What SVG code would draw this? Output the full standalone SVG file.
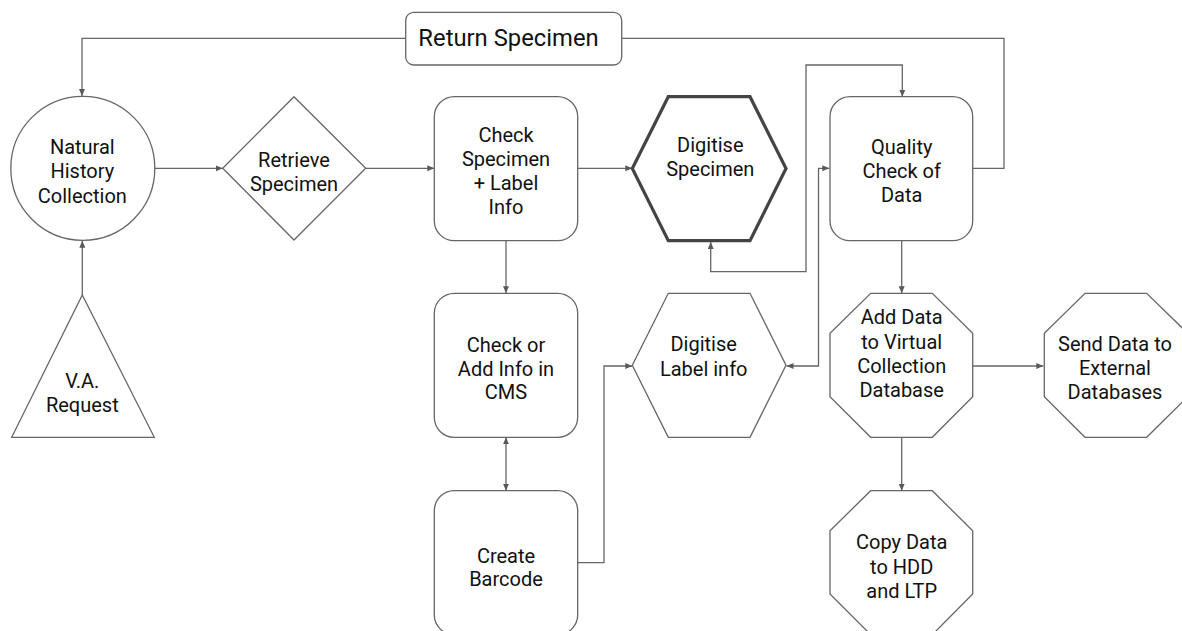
<svg xmlns="http://www.w3.org/2000/svg" width="1182" height="631" viewBox="0 0 1182 631">
<defs>
<marker id="ah" markerUnits="userSpaceOnUse" markerWidth="8" markerHeight="8" refX="7" refY="3" orient="auto-start-reverse" viewBox="0 0 8 6">
<path d="M0,0 L7,3 L0,6 z" fill="#595959"/>
</marker>
<style>
.n{fill:#fff;stroke:#666;stroke-width:1.3}
.thick{fill:#fff;stroke:#444;stroke-width:3.2;stroke-linejoin:miter}
.c{fill:none;stroke:#666;stroke-width:1.3}
.a{marker-end:url(#ah)}
.b{marker-start:url(#ah);marker-end:url(#ah)}
text{font-family:Roboto,"Liberation Sans",sans-serif;font-size:20px;fill:#111;text-anchor:middle}
.big{font-size:23.8px}
</style>
</defs>
<rect width="1182" height="631" fill="#fff"/>
<g id="connectors">
<path class="c a" d="M154,168.3 H222.7"/>
<path class="c a" d="M365.7,168.3 H434.3"/>
<path class="c a" d="M577.7,168.3 H632.3"/>
<path class="c b" d="M710.7,242 V271.7 H806 V65 H902.3 V96.7"/>
<path class="c b" d="M829.3,168.3 H818.5 V366 H786.5"/>
<path class="c" d="M972.7,168.3 H1004 V38.3 H621.7"/>
<path class="c a" d="M405.7,38.3 H82 V96"/>
<path class="c a" d="M82.3,295 V240.7"/>
<path class="c a" d="M506,240.7 V293.3"/>
<path class="c b" d="M506,437.3 V490.7"/>
<path class="c a" d="M577.7,562.7 H604 V366 H632.3"/>
<path class="c a" d="M901.7,240.7 V293.3"/>
<path class="c a" d="M972.7,366 H1043.3"/>
<path class="c a" d="M901.7,437.3 V490.7"/>
</g>
<g id="return-specimen">
<rect class="n" x="405.7" y="12.3" width="216" height="52.7" rx="8"/>
<text class="big" x="508.5" y="46">Return Specimen</text>
</g>
<g id="natural-history-collection">
<circle class="n" cx="82.8" cy="168.3" r="72"/>
<text x="82.3" y="154">Natural</text>
<text x="82.3" y="178">History</text>
<text x="82.3" y="203">Collection</text>
</g>
<g id="va-request">
<polygon class="n" points="82.3,295 154.3,437.3 11.7,437.3"/>
<text x="82.3" y="388.3">V.A.</text>
<text x="82.3" y="411.7">Request</text>
</g>
<g id="retrieve-specimen">
<polygon class="n" points="294,96.7 365.7,168.3 294,240 222.7,168.3"/>
<text x="294" y="166.7">Retrieve</text>
<text x="294" y="190.7">Specimen</text>
</g>
<g id="check-specimen">
<rect class="n" x="434.3" y="96.7" width="143.4" height="144" rx="20"/>
<text x="506" y="141.7">Check</text>
<text x="506" y="166">Specimen</text>
<text x="506" y="190.3">+ Label</text>
<text x="506" y="214">Info</text>
</g>
<g id="digitise-specimen">
<polygon class="thick" points="668.3,96.7 750,96.7 786,168.5 750,240.7 668.3,240.7 632.3,168.5"/>
<text x="710.3" y="151.7">Digitise</text>
<text x="710.3" y="176">Specimen</text>
</g>
<g id="quality-check">
<rect class="n" x="830" y="96.7" width="142.7" height="144" rx="20"/>
<text x="901.7" y="154">Quality</text>
<text x="901.7" y="178.3">Check of</text>
<text x="901.7" y="202.3">Data</text>
</g>
<g id="check-or-add-info">
<rect class="n" x="434.3" y="293.3" width="143.4" height="144" rx="20"/>
<text x="506" y="351.7">Check or</text>
<text x="506" y="375.7">Add Info in</text>
<text x="506" y="399.3">CMS</text>
</g>
<g id="create-barcode">
<rect class="n" x="434.3" y="490.7" width="143.4" height="144" rx="20"/>
<text x="506" y="562.7">Create</text>
<text x="506" y="586">Barcode</text>
</g>
<g id="digitise-label-info">
<polygon class="n" points="668.3,293.3 750,293.3 786,365.3 750,437.3 668.3,437.3 632.3,365.3"/>
<text x="703.7" y="351">Digitise</text>
<text x="703.7" y="375.7">Label info</text>
</g>
<g id="add-data">
<polygon class="n" points="870.7,293.3 932.3,293.3 972.7,333.3 972.7,396.7 932.3,437.3 870.7,437.3 830,396.7 830,333.3"/>
<text x="901.7" y="324.3">Add Data</text>
<text x="901.7" y="349">to Virtual</text>
<text x="901.7" y="373.3">Collection</text>
<text x="901.7" y="396.7">Database</text>
</g>
<g id="send-data">
<polygon class="n" points="1085,293.3 1146.7,293.3 1187.7,333.3 1187.7,396.7 1146.7,437.3 1085,437.3 1044.3,396.7 1044.3,333.3"/>
<text x="1115" y="351">Send Data to</text>
<text x="1115" y="375">External</text>
<text x="1115" y="399">Databases</text>
</g>
<g id="copy-data">
<polygon class="n" points="870.7,490.7 932.3,490.7 972.7,530.7 972.7,594 932.3,634.7 870.7,634.7 830,594 830,530.7"/>
<text x="901.7" y="549.3">Copy Data</text>
<text x="901.7" y="574">to HDD</text>
<text x="901.7" y="597.7">and LTP</text>
</g>
</svg>
